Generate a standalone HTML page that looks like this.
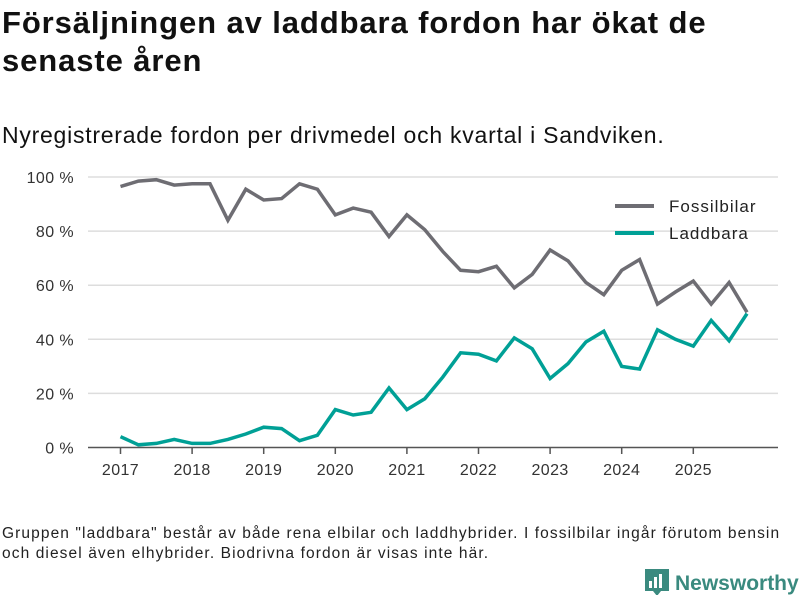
<!DOCTYPE html>
<html><head><meta charset="utf-8"><style>
body{margin:0;width:800px;height:600px;background:#fff;font-family:"Liberation Sans",sans-serif;color:#111;overflow:hidden;position:relative}
#t{position:absolute;left:2px;top:4px;font-size:31px;font-weight:bold;line-height:38px;letter-spacing:0.9px}
#s{position:absolute;left:2px;top:122px;font-size:23px;letter-spacing:0.75px}
#n{position:absolute;left:2px;top:524px;font-size:15.5px;line-height:20px;color:#222;letter-spacing:1.1px;white-space:nowrap}
#logo{position:absolute;left:645px;top:569px;font-size:21px;font-weight:bold;color:#3a8a7f}
</style></head><body>
<div id="t">Försäljningen av laddbara fordon har ökat de<br>senaste åren</div>
<div id="s">Nyregistrerade fordon per drivmedel och kvartal i Sandviken.</div>
<svg id="c" width="800" height="600" style="position:absolute;left:0;top:0"></svg>
<div id="n">Gruppen "laddbara" består av både rena elbilar och laddhybrider. I fossilbilar ingår förutom bensin<br>och diesel även elhybrider. Biodrivna fordon är visas inte här.</div>
<div id="logo"><svg width="24" height="26" style="vertical-align:-5px;margin-right:6px"><rect x="0" y="0" width="24" height="22" fill="#3a8a7f"/><polygon points="8,22 12,27 16,22" fill="#3a8a7f"/><rect x="4" y="12" width="3" height="7" fill="#fff"/><rect x="9" y="8" width="3" height="11" fill="#fff"/><rect x="14" y="5" width="3" height="14" fill="#fff"/></svg>Newsworthy</div>
<script>
const years=[2017,2018,2019,2020,2021,2022,2023,2024,2025];
const yTicks=[0,20,40,60,80,100];
const fossil=[96.5,98.5,99,97,97.5,97.5,84,95.5,91.5,92,97.5,95.5,86,88.5,87,78,86,80.5,72.5,65.5,65,67,59,64,73,69,61,56.5,65.5,69.5,53,57.5,61.5,53,61,50];
const ladd=[4,1,1.5,3,1.5,1.5,3,5,7.5,7,2.5,4.5,14,12,13,22,14,18,26,35,34.5,32,40.5,36.5,25.5,31,39,43,30,29,43.5,40,37.5,47,39.5,49.5];
const svg=document.getElementById('c');const NS='http://www.w3.org/2000/svg';
const x=t=>120.5+(t-2017)*71.6;const y=v=>447.5-v*2.705;
function mk(tag,a){const e=document.createElementNS(NS,tag);for(const k in a)e.setAttribute(k,a[k]);svg.appendChild(e);return e;}
yTicks.forEach(v=>{
 if(v>0){const g=mk('line',{x1:88,x2:778,y1:y(v),y2:y(v),stroke:'#ddd','stroke-width':1.5});
 
 }
 const t=mk('text',{x:74,y:y(v)+6,'text-anchor':'end','font-size':16,fill:'#333','font-family':'Liberation Sans','letter-spacing':0.4});t.textContent=v+' %';
 
 
});
const ax=mk('line',{x1:88,x2:778,y1:447.5,y2:447.5,stroke:'#555','stroke-width':1.5});


years.forEach(yr=>{
 mk('line',{x1:x(yr),x2:x(yr),y1:448,y2:454,stroke:'#555','stroke-width':1.5});
 const t=mk('text',{x:x(yr),y:475,'text-anchor':'middle','font-size':16,fill:'#333','font-family':'Liberation Sans','letter-spacing':0.4});t.textContent=yr;
 
 
});
function line(d,col,name){const p=d.map((v,i)=>x(2017+i/4).toFixed(1)+','+y(v).toFixed(1)).join(' ');
 const e=mk('polyline',{points:p,fill:'none',stroke:col,'stroke-width':3.5,'stroke-linejoin':'miter'});
 
 }
line(fossil,'#6e6d73','fossil-line');line(ladd,'#00a096','laddbara-line');
[['Fossilbilar','#6e6d73',206],['Laddbara','#00a096',233]].forEach(([l,c,yy])=>{
 const s=mk('line',{x1:615,x2:654,y1:yy,y2:yy,stroke:c,'stroke-width':4});
 
 
 const t=mk('text',{x:669,y:yy+6,'font-size':17,fill:'#222','font-family':'Liberation Sans','letter-spacing':1});t.textContent=l;
 
 
});
</script>
</body></html>
